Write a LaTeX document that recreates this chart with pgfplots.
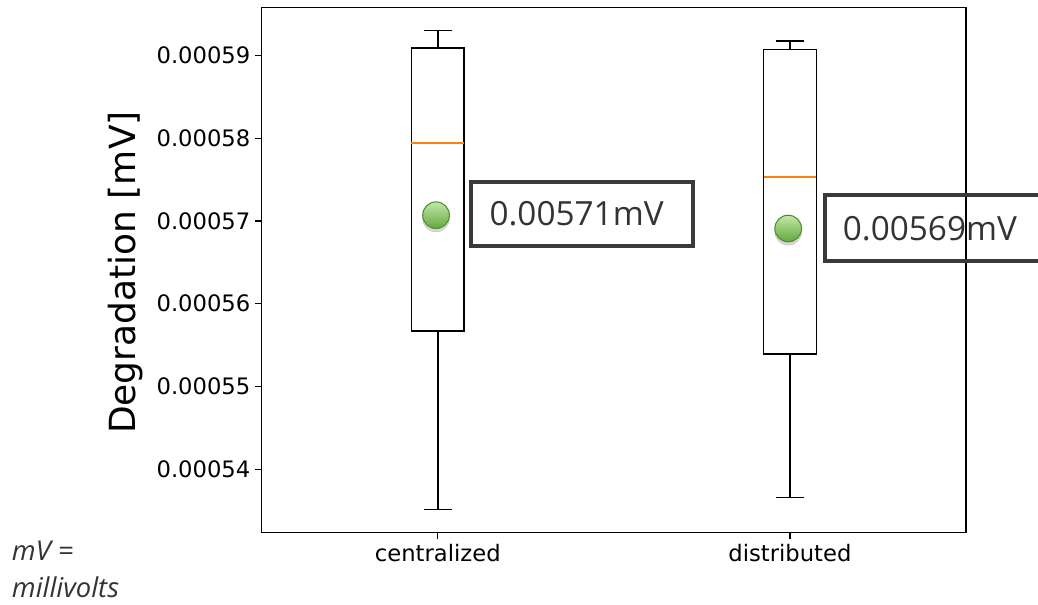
\documentclass[border=0pt]{standalone}
\usepackage{pgfplots}
\pgfplotsset{compat=1.18}
\usepgfplotslibrary{statistics}
\usepackage{fontspec}
\newfontfamily\dejavu{DejaVu Sans}
\newfontfamily\opensans{Open Sans}
\definecolor{medorange}{HTML}{FF7F0E}
\definecolor{dottop}{HTML}{C2E8A8}
\definecolor{dotbot}{HTML}{62A83C}
\definecolor{dotline}{HTML}{4F8F2E}
\definecolor{boxgray}{HTML}{3A3A3A}
\definecolor{txtgray}{HTML}{333333}
\pgfdeclareverticalshading{gdot}{100bp}{color(0bp)=(dotbot); color(25bp)=(dotbot); color(75bp)=(dottop); color(100bp)=(dottop)}
\pgfdeclareplotmark{gball}{%
  \pgfpathcircle{\pgfpointorigin}{\pgfplotmarksize}%
  \pgfshadepath{gdot}{0}%
  \pgfusepath{discard}%
  \pgfsetlinewidth{0.8pt}%
  \pgfsetstrokecolor{dotline}%
  \pgfpathcircle{\pgfpointorigin}{\pgfplotmarksize}%
  \pgfusepath{stroke}%
}
\begin{document}
\begin{tikzpicture}
\path[use as bounding box] (0,0) rectangle (778.5pt,453pt);
\begin{axis}[
  at={(196.3pt,53.5pt)}, anchor=south west,
  scale only axis, width=528.2pt, height=394pt,
  xmin=0.5, xmax=2.5, ymin=0.00053235, ymax=0.0005958,
  xtick={1,2}, xticklabels={centralized,distributed},
  ytick={0.00054,0.00055,0.00056,0.00057,0.00058,0.00059},
  yticklabels={0.00054,0.00055,0.00056,0.00057,0.00058,0.00059},
  scaled y ticks=false,
  tick align=outside, xtick pos=bottom, ytick pos=left,
  major tick length=5pt,
  tick style={black, line width=0.9pt},
  axis line style={black, line width=0.9pt},
  tick label style={font=\dejavu\fontsize{17}{20}\selectfont, text=black},
  ylabel={Degradation [mV]},
  ylabel style={font=\dejavu\fontsize{27}{32}\selectfont, at={(axis description cs:-0.194,0.495)}, anchor=center},
  clip=false,
  boxplot/draw direction=y,
  boxplot/every box/.style={draw=black, line width=1.1pt},
  boxplot/every whisker/.style={draw=black, line width=1.1pt},
  boxplot/every median/.style={draw=medorange, line width=1.3pt},
]
\addplot[black, line width=1.1pt,
  boxplot prepared={draw position=1, lower whisker=0.00053517, lower quartile=0.00055669,
    median=0.00057938, upper quartile=0.00059088, upper whisker=0.00059298,
    box extend=0.15, whisker extend=0.08}] coordinates {};
\addplot[black, line width=1.1pt,
  boxplot prepared={draw position=2, lower whisker=0.00053657, lower quartile=0.00055392,
    median=0.00057528, upper quartile=0.00059072, upper whisker=0.00059173,
    box extend=0.15, whisker extend=0.08}] coordinates {};
% shadow of dots
\addplot[only marks, mark=*, mark size=10pt, mark options={draw=none, fill=black, opacity=0.15, yshift=-2.5pt}] coordinates {(0.995,0.00057069) (1.995,0.00056908)};
\addplot[only marks, mark=gball, mark size=10pt] coordinates {(0.995,0.00057069) (1.995,0.00056908)};
\end{axis}
% value annotations
\draw[boxgray, line width=3.2pt] (353.3pt,268.4pt) rectangle (519.7pt,316.4pt);
\node[font=\opensans\fontsize{25}{30}\selectfont, text=txtgray, anchor=center] at (432.4pt,292.5pt) {0.00571mV};
\draw[boxgray, line width=3.2pt] (618.6pt,257.1pt) rectangle (787.5pt,306.5pt);
\node[font=\opensans\fontsize{25}{30}\selectfont, text=txtgray, anchor=center] at (697.4pt,281.8pt) {0.00569mV};
% footnote
\node[font=\opensans\itshape\fontsize{20.5}{24}\selectfont, text=txtgray, anchor=base west, inner sep=0pt] at (8.8pt,32.5pt) {mV =};
\node[font=\opensans\itshape\fontsize{20.5}{24}\selectfont, text=txtgray, anchor=base west, inner sep=0pt] at (8.8pt,5pt) {millivolts};
\end{tikzpicture}
\end{document}
